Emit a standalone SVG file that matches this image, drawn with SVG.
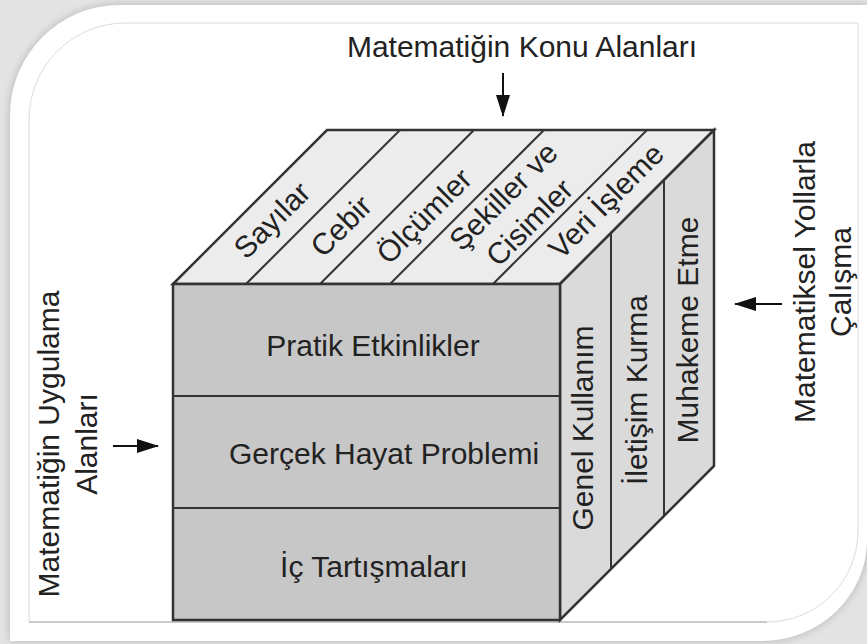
<svg xmlns="http://www.w3.org/2000/svg" width="867" height="644" viewBox="0 0 867 644">
  <defs>
    <filter id="blur" x="-10%" y="-10%" width="120%" height="120%">
      <feGaussianBlur stdDeviation="5"/>
    </filter>
    <marker id="ah" markerWidth="22" markerHeight="14" refX="21" refY="7" orient="auto" markerUnits="userSpaceOnUse">
      <path d="M0,0 L22,7 L0,14 Z" fill="#111"/>
    </marker>
    <style>
      .t { font-family: "Liberation Sans", Arial, sans-serif; font-size: 30px; fill: #222; text-anchor: middle; }
      .edge { stroke: #333; stroke-width: 2.5; stroke-linejoin: miter; }
      .div { stroke: #333; stroke-width: 2; fill: none; }
      .top { fill: #ececec; }
      .side { fill: #dadada; }
      .front { fill: #c7c7c7; }
      .arrow { stroke: #111; stroke-width: 2; fill: none; marker-end: url(#ah); }
    </style>
  </defs>

  <!-- frame -->
  <g id="frame">
    <rect x="0" y="0" width="867" height="644" fill="#e4e4e4"/>
    <path d="M10,115 A110,110 0 0 1 120,5 L867,5 L867,540 A105,101 0 0 1 762,641 L10,641 Z" fill="#b4b4b4" filter="url(#blur)"/>
    <path d="M10,115 A110,110 0 0 1 120,5 L867,5 L867,540 A105,101 0 0 1 762,641 L10,641 Z" fill="#ffffff"/>
    <path d="M29,120 A96,97 0 0 1 125,23 L858,23 L858,531 A91,91 0 0 1 767,622 L29,622 Z" fill="none" stroke="#dcdcdc" stroke-width="1"/>
    <line x1="29" y1="622" x2="767" y2="622" stroke="#a8a8a8" stroke-width="1.2"/>
  </g>

  <!-- cube: top face -->
  <g id="top-face">
    <polygon class="top edge" points="173,284 327,130 714,130 560,284"/>
    <line class="div" x1="246" y1="284" x2="400" y2="130"/>
    <line class="div" x1="320" y1="284" x2="474" y2="130"/>
    <line class="div" x1="390" y1="284" x2="544" y2="130"/>
    <line class="div" x1="493" y1="284" x2="647" y2="130"/>
  </g>
  <g id="sayilar"><text class="t" transform="translate(273,221) rotate(-45)" x="0" y="9">Sayılar</text></g>
  <g id="cebir"><text class="t" transform="translate(342,227) rotate(-45)" x="0" y="9">Cebir</text></g>
  <g id="olcumler"><text class="t" transform="translate(425,217) rotate(-45)" x="0" y="9">Ölçümler</text></g>
  <g id="sekiller"><text class="t" transform="translate(517,210) rotate(-45)" x="0" y="-9">Şekiller ve<tspan x="0" dy="37">Cisimler</tspan></text></g>
  <g id="veri"><text class="t" transform="translate(607,202) rotate(-45)" x="0" y="9">Veri İşleme</text></g>

  <!-- cube: right face -->
  <g id="right-face">
    <polygon class="side edge" points="560,284 714,130 714,466 560,620"/>
    <line class="div" x1="611" y1="233" x2="611" y2="569"/>
    <line class="div" x1="664" y1="180" x2="664" y2="516"/>
  </g>
  <g id="genel"><text class="t" transform="translate(583,428) rotate(-90)" x="0" y="10">Genel Kullanım</text></g>
  <g id="iletisim"><text class="t" transform="translate(637,390) rotate(-90)" x="0" y="10">İletişim Kurma</text></g>
  <g id="muhakeme"><text class="t" transform="translate(688,330) rotate(-90)" x="0" y="10">Muhakeme Etme</text></g>

  <!-- cube: front face -->
  <g id="front-face">
    <rect class="front edge" x="173" y="284" width="387" height="336"/>
    <line class="div" x1="173" y1="396" x2="560" y2="396"/>
    <line class="div" x1="173" y1="508" x2="560" y2="508"/>
  </g>
  <g id="pratik"><text class="t" x="373" y="356">Pratik Etkinlikler</text></g>
  <g id="gercek"><text class="t" x="384" y="464">Gerçek Hayat Problemi</text></g>
  <g id="ic"><text class="t" x="374" y="577">İç Tartışmaları</text></g>

  <!-- outer labels -->
  <g id="konu"><text class="t" x="522" y="57">Matematiğin Konu Alanları</text></g>
  <g id="uygulama"><text class="t" transform="translate(49,444) rotate(-90)" x="0" y="10">Matematiğin Uygulama<tspan x="0" dy="38">Alanları</tspan></text></g>
  <g id="yollar"><text class="t" transform="translate(805,282) rotate(-90)" x="0" y="10">Matematiksel Yollarla<tspan x="0" dy="36">Çalışma</tspan></text></g>

  <!-- connectors -->
  <g id="connectors">
    <line class="arrow" x1="503" y1="73" x2="503" y2="116"/>
    <line class="arrow" x1="113" y1="446" x2="158" y2="446"/>
    <line class="arrow" x1="782" y1="304" x2="735" y2="304"/>
  </g>
</svg>
